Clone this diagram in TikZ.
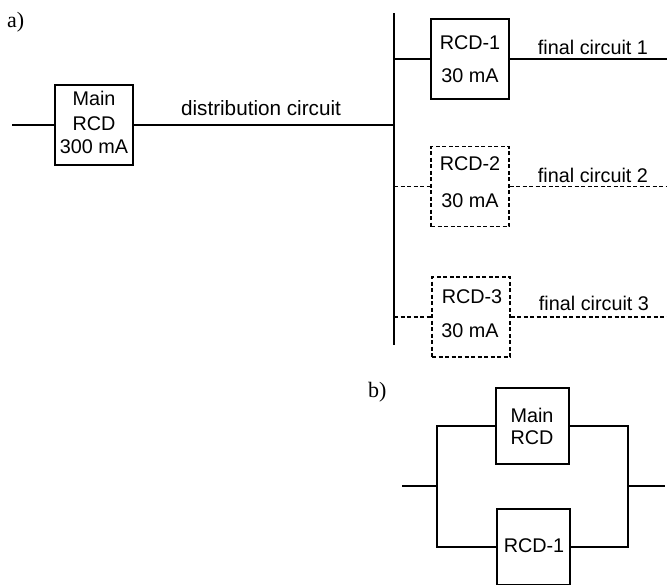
\documentclass[tikz,border=0pt]{standalone}
\usepackage{fontspec}
\setmainfont{Liberation Sans}
\newfontfamily\labelfont{Liberation Serif}
\begin{document}
\begin{tikzpicture}[x=1pt,y=-1pt,
  wire/.style={line width=1.2pt,black},
  dwire/.style={wire,dash pattern=on 4pt off 2.5pt},
  box/.style={draw,line width=1.2pt,inner sep=0pt,minimum width=78pt,minimum height=80pt},
  dbox/.style={box,dash pattern=on 4pt off 2.5pt},
  bbox/.style={box,minimum width=73pt,minimum height=76pt},
  txt/.style={anchor=base,inner sep=0pt,font=\fontsize{19.8}{23}\selectfont},
  lbl/.style={anchor=base west,inner sep=0pt,font=\labelfont\fontsize{22}{26}\selectfont}]
\useasboundingbox (0,0) rectangle (667,584);
\clip (0,0) rectangle (667,584);
% ---------- a)
\node[lbl] (la) at (7,27) {a)};
\node[box] (main) at (94,125) {};
\coordinate (inA) at (12,125);
\coordinate (busT) at (394,13);
\coordinate (busB) at (394,345);
\coordinate (busM) at (394,126);
\node[box] (r1) at (470,59) {};
\node[dbox] (r2) at (470,186.5) {};
\node[dbox] (r3) at (471,317) {};
\coordinate (b1) at (394,59);
\coordinate (b2) at (394,186.5);
\coordinate (b3) at (394,317);
\coordinate (e1) at (668,59);
\coordinate (e2) at (668,186.5);
\coordinate (e3) at (668,317);
\draw[wire] (inA) -- (main.west);
\draw[wire] (main.east) -- (main.east -| busM);
\draw[wire] (busT) -- (busB);
\draw[wire] (b1) -- (r1.west);
\draw[wire] (r1.east) -- (e1);
\draw[dwire] (b2) -- (r2.west);
\draw[dwire] (r2.east) -- (e2);
\draw[dwire] (b3) -- (r3.west);
\draw[dwire] (r3.east) -- (e3);
\node[txt] (tm1) at (94,105) {Main};
\node[txt] (tm2) at (94,130) {RCD};
\node[txt] (tm3) at (94,153) {300 mA};
\node[txt,font=\fontsize{20.7}{24}\selectfont] (td) at (261,115) {distribution circuit};
\node[txt] (t11) at (470,49) {RCD-1};
\node[txt] (t12) at (470,82) {30 mA};
\node[txt] (t21) at (470,170) {RCD-2};
\node[txt] (t22) at (470,207) {30 mA};
\node[txt] (t31) at (472,303) {RCD-3};
\node[txt] (t32) at (470,337) {30 mA};
\node[txt] (f1) at (593,54) {final circuit 1};
\node[txt] (f2) at (593,182) {final circuit 2};
\node[txt] (f3) at (594,310) {final circuit 3};
% ---------- b)
\node[lbl] (lb) at (368,397) {b)};
\node[bbox] (bm) at (532.5,426) {};
\node[bbox] (br) at (533.5,547) {};
\coordinate (jl) at (437,486);
\coordinate (jr) at (628,486);
\coordinate (sl) at (402,486);
\coordinate (sr) at (665,486);
\draw[wire] (sl) -- (jl);
\draw[wire] (jr) -- (sr);
\draw[wire] (bm.west) -| (jl) |- (br.west);
\draw[wire] (bm.east) -| (jr) |- (br.east);
\node[txt] (bt1) at (532,422) {Main};
\node[txt] (bt2) at (532,444) {RCD};
\node[txt] (bt3) at (534,552) {RCD-1};
\end{tikzpicture}
\end{document}
